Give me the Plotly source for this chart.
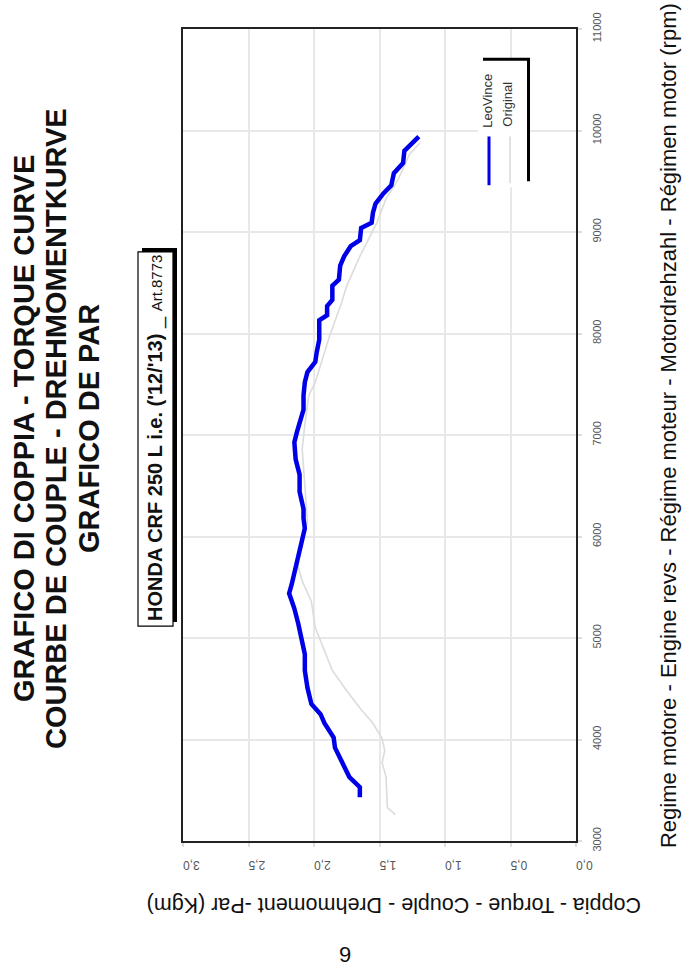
import plotly.graph_objects as go

# ---- data ----
leovince_rpm = [3430, 3530, 3630, 3770, 3920, 4020, 4160, 4250, 4350, 4510, 4680, 4840,
                4970, 5140, 5290, 5440, 5530, 5750, 5980, 6080, 6180, 6270, 6440, 6610,
                6760, 6930, 7030, 7250, 7390, 7520, 7620, 7720, 7810, 7940, 8130, 8180,
                8270, 8330, 8470, 8530, 8670, 8760, 8860, 8920, 9040, 9090, 9190, 9280,
                9380, 9460, 9580, 9680, 9800, 9890, 9940]
leovince_torque = [1.65, 1.65, 1.73, 1.78, 1.84, 1.85, 1.92, 1.95, 2.02, 2.05, 2.07, 2.07,
                   2.09, 2.12, 2.15, 2.19, 2.17, 2.13, 2.09, 2.07, 2.08, 2.08, 2.11, 2.11,
                   2.14, 2.15, 2.13, 2.08, 2.08, 2.07, 2.05, 1.99, 1.98, 1.96, 1.96, 1.90,
                   1.90, 1.86, 1.86, 1.81, 1.80, 1.77, 1.72, 1.65, 1.64, 1.56, 1.55, 1.53,
                   1.47, 1.41, 1.39, 1.32, 1.31, 1.24, 1.20]

original_rpm = [3260, 3330, 3630, 3770, 3890, 4010, 4160, 4310, 4480, 4680, 4940, 5100,
                5360, 5560, 5750, 5980, 6150, 6540, 6860, 7100, 7390, 7520, 7720, 7980,
                8300, 8470, 8760, 8920, 9090, 9330, 9510, 9770, 9880]
original_torque = [1.38, 1.44, 1.45, 1.48, 1.46, 1.48, 1.55, 1.65, 1.75, 1.86, 1.94, 1.99,
                   2.02, 2.09, 2.13, 2.08, 2.05, 2.07, 2.09, 2.07, 2.04, 1.99, 1.94, 1.88,
                   1.79, 1.75, 1.65, 1.59, 1.52, 1.45, 1.36, 1.27, 1.19]

torque_ticks = [0, 0.5, 1.0, 1.5, 2.0, 2.5, 3.0]
torque_ticktext = ["0,0", "0,5", "1,0", "1,5", "2,0", "2,5", "3,0"]
rpm_ticks = [3000, 4000, 5000, 6000, 7000, 8000, 9000, 10000, 11000]
rpm_ticktext = ["3000", "4000", "5000", "6000", "7000", "8000", "9000", "10000", "11000"]

series_names = ["LeoVince", "Original"]
title_lines = ["GRAFICO DI COPPIA - TORQUE CURVE",
               "COURBE DE COUPLE - DREHMOMENTKURVE",
               "GRAFICO DE PAR"]
model_label = "HONDA CRF 250 L i.e. ('12/'13)"
article_label = "Art.8773"
x_title = "Regime motore - Engine revs - Régime moteur - Motordrehzahl - Régimen motor (rpm)"
y_title = "Coppia - Torque - Couple - Drehmoment -Par (Kgm)"
page_number = "9"

# ---- layout helpers (pixel -> paper) ----
L, R, T, B = 183, 576, 25, 841
W, H = 683, 967


def px(x):
    return (x - L) / (R - L)


def py(y):
    return (B - y) / (B - T)


FONT = "Liberation Sans, Arial, Helvetica, sans-serif"
NARROW = "Liberation Sans Narrow, Arial Narrow, Liberation Sans, sans-serif"

fig = go.Figure()
fig.add_trace(go.Scatter(x=original_torque, y=original_rpm, mode="lines",
                         name=series_names[1],
                         line=dict(color="#dcdcdc", width=1.6)))
fig.add_trace(go.Scatter(x=leovince_torque, y=leovince_rpm, mode="lines",
                         name=series_names[0],
                         line=dict(color="#0000e8", width=4.5)))

axis_common = dict(showgrid=True, gridcolor="#e8e8e8", gridwidth=2, zeroline=False,
                   showline=True, mirror=True, linecolor="#222222", linewidth=1.5,
                   ticks="outside", ticklen=4, tickcolor="#dddddd", tickwidth=2)

fig.update_layout(
    width=W, height=H,
    margin=dict(l=L, r=W - R, t=T, b=H - B),
    paper_bgcolor="white", plot_bgcolor="white",
    showlegend=False,
    font=dict(family=FONT, color="#111111"),
    xaxis=dict(range=[3, 0], tickvals=torque_ticks, ticktext=torque_ticktext,
               tickangle=180, ticklabelstandoff=12,
               tickfont=dict(family=NARROW, size=12, color="#555555"), **axis_common),
    yaxis=dict(range=[3000, 11000], tickvals=rpm_ticks, ticktext=rpm_ticktext,
               side="right", tickangle=-90, ticklabelstandoff=6,
               tickfont=dict(family=NARROW, size=11, color="#555555"), **axis_common),
)

shapes = []
# model label box: shadow (up-right) then white box
shapes.append(dict(type="rect", xref="paper", yref="paper",
                   x0=px(142), x1=px(177), y0=py(621), y1=py(245),
                   fillcolor="black", line=dict(width=0)))
shapes.append(dict(type="rect", xref="paper", yref="paper",
                   x0=px(138), x1=px(173), y0=py(625), y1=py(249),
                   fillcolor="white", line=dict(color="black", width=1.2)))
# legend box: shadow then white box
shapes.append(dict(type="rect", xref="paper", yref="paper",
                   x0=px(483), x1=px(530), y0=py(178), y1=py(54),
                   fillcolor="black", line=dict(width=0)))
shapes.append(dict(type="rect", xref="paper", yref="paper",
                   x0=px(478), x1=px(527), y0=py(184), y1=py(57),
                   fillcolor="white", line=dict(width=0)))
# legend swatches
shapes.append(dict(type="line", xref="paper", yref="paper",
                   x0=px(489), x1=px(489), y0=py(182), y1=py(133),
                   line=dict(color="#0000e8", width=3)))
shapes.append(dict(type="line", xref="paper", yref="paper",
                   x0=px(510), x1=px(510), y0=py(180), y1=py(133),
                   line=dict(color="#e2e2e2", width=2)))

annotations = []
for i, (line, cx) in enumerate(zip(title_lines, [24, 56, 89])):
    annotations.append(dict(xref="paper", yref="paper", x=px(cx), y=py(427),
                            text="<b>" + line + "</b>", showarrow=False, textangle=-90,
                            xanchor="center", yanchor="middle",
                            font=dict(family=FONT, size=29, color="#111111")))
annotations.append(dict(xref="paper", yref="paper", x=px(156), y=py(436),
                        text="<b>" + model_label + "</b> _ <span style='font-size:15px'>"
                        + article_label + "</span>",
                        showarrow=False, textangle=-90, xanchor="center", yanchor="middle",
                        font=dict(family=FONT, size=20, color="#111111")))
annotations.append(dict(xref="paper", yref="paper", x=px(488), y=py(97),
                        text=series_names[0], showarrow=False, textangle=-90,
                        xanchor="center", yanchor="middle",
                        font=dict(family=NARROW, size=13, color="#333333")))
annotations.append(dict(xref="paper", yref="paper", x=px(508), y=py(101),
                        text=series_names[1], showarrow=False, textangle=-90,
                        xanchor="center", yanchor="middle",
                        font=dict(family=NARROW, size=13, color="#333333")))
annotations.append(dict(xref="paper", yref="paper", x=px(668), y=py(424),
                        text=x_title, showarrow=False, textangle=-90,
                        xanchor="center", yanchor="middle",
                        font=dict(family=FONT, size=22, color="#111111")))
annotations.append(dict(xref="paper", yref="paper", x=px(394), y=py(906),
                        text=y_title, showarrow=False, textangle=180,
                        xanchor="center", yanchor="middle",
                        font=dict(family=FONT, size=21.5, color="#111111")))
annotations.append(dict(xref="paper", yref="paper", x=px(345), y=py(955),
                        text=page_number, showarrow=False,
                        xanchor="center", yanchor="middle",
                        font=dict(family=FONT, size=22, color="#111111")))

fig.update_layout(shapes=shapes, annotations=annotations)
fig.write_html("out.html",
               config={"displayModeBar": False},
               post_script="document.body.style.margin='0px';"
                           "document.body.style.overflow='hidden';")
